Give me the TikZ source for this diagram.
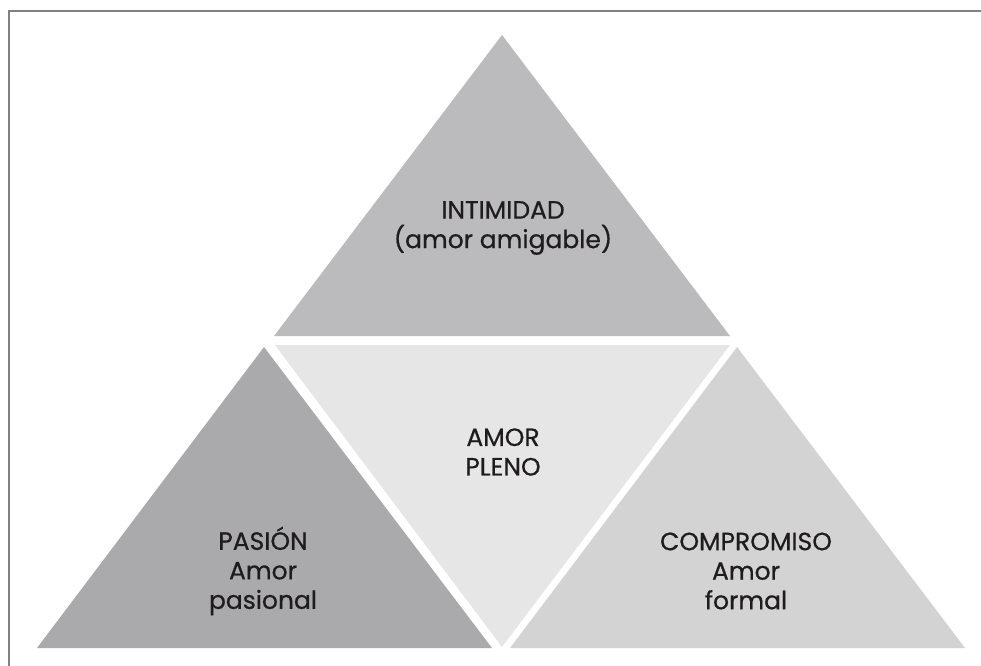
\documentclass[tikz,border=0pt]{standalone}
\usepackage{fontspec}
\setmainfont{Poppins}[FakeBold=0.6]
\usepackage{tikz}
\usetikzlibrary{positioning}
\definecolor{frameGray}{RGB}{128, 128, 128}
\definecolor{fillTop}{RGB}{187, 187, 189}
\definecolor{fillMid}{RGB}{230, 230, 230}
\definecolor{fillLeft}{RGB}{170, 170, 172}
\definecolor{fillRight}{RGB}{211, 211, 211}
\definecolor{inkText}{RGB}{30, 28, 28}

\begin{document}
\begin{tikzpicture}[x=1pt, y=-1pt,
    label/.style={align=center, text=inkText, inner sep=0pt,
        font=\fontsize{25pt}{29.5pt}\selectfont}]
    \useasboundingbox (0,0) rectangle (981,665);
    % frame
    \draw[frameGray, line width=2pt] (9,680) -- (9,11) -- (990,11);
    % triangles
    \fill[fillTop] (502,35) -- (274,336) -- (730,336) -- cycle;
    \fill[fillMid] (275,345) -- (730,345) -- (502,647) -- cycle;
    \fill[fillLeft] (264,347) -- (37,648) -- (492,648) -- cycle;
    \fill[fillRight] (737,347) -- (510,648) -- (965,648) -- cycle;
    % labels
    \node[label] (intimidad) at (503,228) {INTIMIDAD\\(amor amigable)};
    \node[label] (pleno) at (503,452) {AMOR\\PLENO};
    \node[label] (pasion) at (263,571) {PASIÓN\\Amor\\pasional};
    \node[label] (compromiso) at (746,571) {COMPROMISO\\Amor\\formal};
\end{tikzpicture}
\end{document}
